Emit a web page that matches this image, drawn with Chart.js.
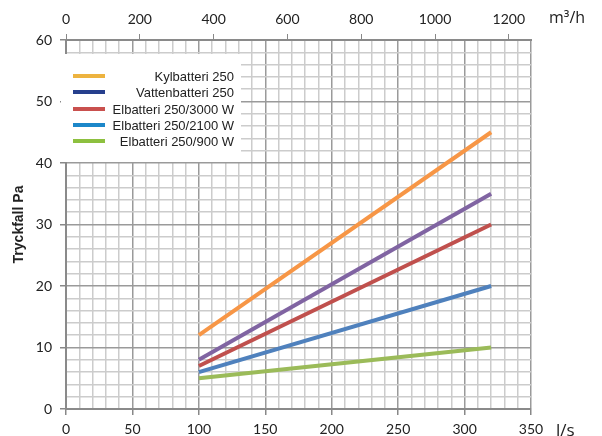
<!DOCTYPE html>
<html>
<head>
<meta charset="utf-8">
<script src="https://cdn.jsdelivr.net/npm/chart.js@4"></script>
<style>
	html, body { margin: 0; padding: 0; background: #fff; }
	#wrap { width: 602px; height: 436px; position: relative; }
</style>
</head>
<body>
<div id="wrap"><canvas id="myChart" width="602" height="436"></canvas></div>
<script>
// flow in l/s at both ends of each line
var flowLs = [100, 320];

// pressure drop (Pa)
var kylbatteri = [12, 45];
var vattenbatteri = [8, 35];
var elbatteri3000 = [7, 30];
var elbatteri2100 = [6, 20];
var elbatteri900 = [5, 10];

var seriesNames = ['Kylbatteri 250', 'Vattenbatteri 250', 'Elbatteri 250/3000 W', 'Elbatteri 250/2100 W', 'Elbatteri 250/900 W'];
var seriesValues = [kylbatteri, vattenbatteri, elbatteri3000, elbatteri2100, elbatteri900];
var lineColors = ['#f79646', '#8064a2', '#c0504d', '#4f81bd', '#9bbb59'];
var legendColors = ['#edb33f', '#263f8d', '#c9504e', '#1c87c9', '#8dc03f'];

var topTicks = [0, 200, 400, 600, 800, 1000, 1200];

var axisFont = { family: 'Lato', size: 14 };
var axisColor = '#222';

function toPoints(values) {
	return flowLs.map(function (x, i) {
		return { x: x, y: values[i] };
	});
}

var datasets = seriesValues.map(function (values, i) {
	return {
		label: seriesNames[i],
		data: toPoints(values),
		borderColor: lineColors[i],
		backgroundColor: lineColors[i],
		borderWidth: 4,
		pointRadius: 0,
		fill: false
	};
});

// legend box and unit labels are drawn on top of everything
var overlay = {
	id: 'overlay',
	afterDraw: function (chart) {
		var ctx = chart.ctx;
		var area = chart.chartArea;

		ctx.save();
		ctx.fillStyle = '#fff';
		ctx.fillRect(area.left - 5, area.top + 14, 180, 108);

		ctx.font = '13px "Liberation Sans", Arial, sans-serif';
		ctx.textAlign = 'right';
		ctx.textBaseline = 'middle';
		var rowY = [76, 92, 109, 125, 141];
		for (var i = 0; i < seriesNames.length; i++) {
			ctx.fillStyle = legendColors[i];
			ctx.fillRect(73, rowY[i] - 2, 32, 4);
			ctx.fillStyle = '#222';
			ctx.fillText(seriesNames[i], 234, rowY[i] + 1);
		}

		ctx.textAlign = 'left';
		ctx.font = '16px "Open Sans", sans-serif';
		ctx.fillText('m³/h', 549, 18);
		ctx.font = '17px "Open Sans", sans-serif';
		ctx.fillText('l/s', 556, 431);
		ctx.restore();
	}
};

function isMajor(value, step) {
	return Math.abs(value % step) < 1e-6;
}

var ctx = document.getElementById('myChart').getContext('2d');
new Chart(ctx, {
	type: 'line',
	data: { datasets: datasets },
	options: {
		responsive: false,
		animation: false,
		layout: { padding: { left: 0, right: 71, top: 0, bottom: 0 } },
		plugins: {
			legend: { display: false },
			tooltip: { enabled: false }
		},
		scales: {
			x: {
				type: 'linear',
				position: 'bottom',
				min: 0,
				max: 350,
				afterFit: function (scale) { scale.height = 27; },
				ticks: {
					stepSize: 10,
					autoSkip: false,
					maxRotation: 0,
					padding: 6,
					color: axisColor,
					font: axisFont,
					callback: function (value) {
						return isMajor(value, 50) ? String(value) : '';
					}
				},
				grid: {
					color: function (c) {
						return isMajor(c.tick.value, 50) ? '#9a9a9a' : '#cccccc';
					},
					lineWidth: 1.5,
					tickColor: function (c) {
						return isMajor(c.tick.value, 50) ? '#888' : 'rgba(0,0,0,0)';
					},
					tickLength: 6
				},
				border: { color: '#8a8a8a', width: 2 }
			},
			x2: {
				type: 'linear',
				position: 'top',
				min: 0,
				max: 1260,
				afterFit: function (scale) { scale.height = 40; },
				afterBuildTicks: function (scale) {
					scale.ticks = topTicks.map(function (v) { return { value: v }; });
				},
				ticks: {
					autoSkip: false,
					maxRotation: 0,
					padding: 6,
					color: axisColor,
					font: axisFont,
					callback: function (value) {
						return String(value);
					}
				},
				grid: {
					drawOnChartArea: false,
					color: '#888',
					tickLength: 6
				},
				border: { color: '#8a8a8a', width: 2 }
			},
			y: {
				min: 0,
				max: 60,
				afterFit: function (scale) { scale.width = 66; },
				title: {
					display: true,
					text: 'Tryckfall Pa',
					color: '#222',
					font: { family: 'Liberation Sans', size: 14, weight: 'bold' },
					padding: { top: 11, bottom: 0 }
				},
				ticks: {
					stepSize: 2,
					autoSkip: false,
					padding: 8,
					color: axisColor,
					font: axisFont,
					callback: function (value) {
						return isMajor(value, 10) ? String(value) : '';
					}
				},
				grid: {
					color: function (c) {
						return isMajor(c.tick.value, 10) ? '#9a9a9a' : '#cccccc';
					},
					lineWidth: 1.5,
					tickColor: function (c) {
						return isMajor(c.tick.value, 10) ? '#888' : 'rgba(0,0,0,0)';
					},
					tickLength: 6
				},
				border: { color: '#8a8a8a', width: 2 }
			}
		}
	},
	plugins: [overlay]
});
</script>
</body>
</html>
